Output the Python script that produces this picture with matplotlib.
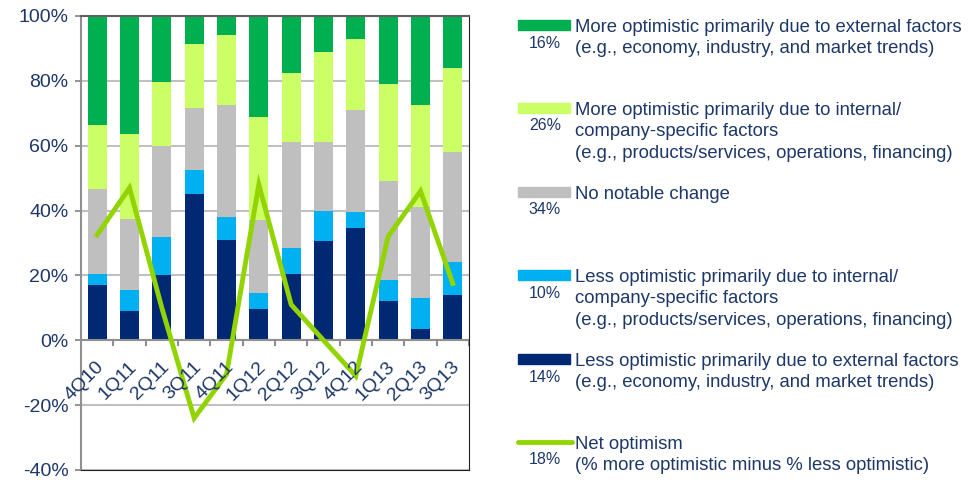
import numpy as np
import matplotlib.pyplot as plt
from matplotlib import ticker
from matplotlib.patches import Rectangle
from matplotlib.lines import Line2D

plt.rcParams["font.family"] = ["Liberation Sans", "DejaVu Sans"]

quarters = ["4Q10", "1Q11", "2Q11", "3Q11", "4Q11", "1Q12",
            "2Q12", "3Q12", "4Q12", "1Q13", "2Q13", "3Q13"]

# stacked from bottom to top (% of respondents)
less_external = [17, 9, 20, 45, 31, 9.5, 20.5, 30.5, 34.5, 12, 3.5, 14]
less_internal = [3.5, 6.5, 12, 7.5, 7, 5, 8, 9.5, 5, 6.5, 9.5, 10]
no_change = [26, 22, 28, 19, 34.5, 22.5, 32.5, 21, 31.5, 30.5, 28, 34]
more_internal = [20, 26, 19.5, 20, 21.5, 32, 21.5, 28, 22, 30, 31.5, 26]
more_external = [33.5, 36.5, 20.5, 8.5, 6, 31, 17.5, 11, 7, 21, 27.5, 16]
net_optimism = [32.5, 47, 10, -24, -10.5, 48, 11, 0, -11, 32, 46, 17.5]

legend_labels = [
    "More optimistic primarily due to external factors\n(e.g., economy, industry, and market trends)",
    "More optimistic primarily due to internal/\ncompany-specific factors\n(e.g., products/services, operations, financing)",
    "No notable change",
    "Less optimistic primarily due to internal/\ncompany-specific factors\n(e.g., products/services, operations, financing)",
    "Less optimistic primarily due to external factors\n(e.g., economy, industry, and market trends)",
    "Net optimism\n(% more optimistic minus % less optimistic)",
]
legend_pct = ["16%", "26%", "34%", "10%", "14%", "18%"]

text_color = "#1C3768"
colors = ["#002873", "#00B0F0", "#BFBFBF", "#CCFF66", "#00B050"]
line_color = "#92D400"

W, H = 979, 480
fig = plt.figure(figsize=(W / 100, H / 100), dpi=100)
ax = fig.add_axes([81 / W, 10 / H, 388 / W, 454 / H])

x = np.arange(len(quarters))
series = [less_external, less_internal, no_change, more_internal, more_external]
bottom = np.zeros(len(quarters))
for vals, c in zip(series, colors):
    ax.bar(x, vals, bottom=bottom, width=0.58, color=c, zorder=2)
    bottom += np.array(vals)

ax.plot(x, net_optimism, color=line_color, linewidth=3.5, zorder=3,
        solid_joinstyle="miter")

ax.set_xlim(-0.5, len(quarters) - 0.5)
ax.set_ylim(-40, 100)
ax.yaxis.set_major_locator(ticker.MultipleLocator(20))
ax.yaxis.set_major_formatter(ticker.FuncFormatter(lambda v, p: f"{v:.0f}%"))
ax.grid(axis="y", color="#C0C0C0", linewidth=1.5, zorder=0)
ax.set_axisbelow(True)
ax.tick_params(axis="y", labelsize=14, colors="#808080", labelcolor=text_color,
               length=4, width=1.2, pad=5)
ax.set_xticks([])

# zero axis with category separators
ax.axhline(0, color="#909090", linewidth=1.5, zorder=2)
for b in np.arange(0.5, len(quarters), 1):
    ax.plot([b, b], [0, -1.6], color="#909090", linewidth=1.5, clip_on=False, zorder=2)
for i, q in enumerate(quarters):
    ax.text(i - 0.05, -5.5, q, rotation=45, ha="right", va="top",
            rotation_mode="anchor", fontsize=14, color=text_color)

ax.spines["left"].set_color("#909090")
ax.spines["left"].set_linewidth(1.5)
ax.spines["top"].set_color("#606060")
ax.spines["top"].set_linewidth(1.5)
ax.spines["right"].set_color("#202020")
ax.spines["bottom"].set_color("#202020")

# legend drawn on the right
legend_colors = colors[::-1] + [line_color]
rows_y = [25, 108, 192, 275, 359, 442]
for i, (lab, pct, c, yy) in enumerate(zip(legend_labels, legend_pct, legend_colors, rows_y)):
    yf = 1 - yy / H
    if i < 5:
        fig.add_artist(Rectangle((518 / W, yf - 5 / H), 52 / W, 10 / H,
                                 transform=fig.transFigure, color=c))
    else:
        fig.add_artist(Line2D([518 / W, 572 / W], [yf, yf], transform=fig.transFigure,
                              color=c, linewidth=3.5, solid_capstyle="round"))
    fig.text(575 / W, yf + 6 / H, lab, ha="left", va="top", fontsize=13.3,
             color=text_color, linespacing=1.33)
    fig.text(545 / W, 1 - (yy + 18) / H, pct, ha="center", va="center",
             fontsize=11.5, color=text_color)

fig.savefig("out.png", dpi=100)
